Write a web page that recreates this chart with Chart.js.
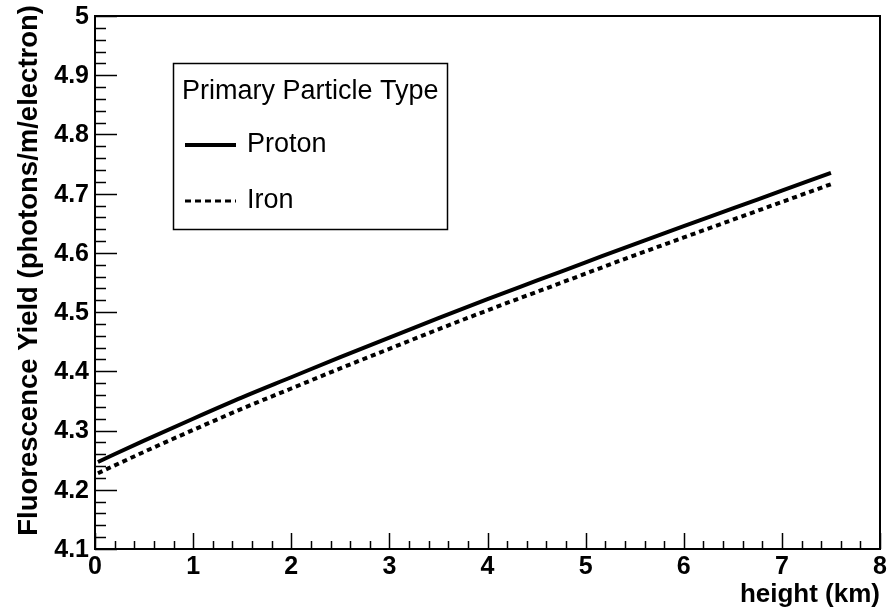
<!DOCTYPE html>
<html>
<head>
<meta charset="utf-8">
<script src="https://cdn.jsdelivr.net/npm/chart.js@4.4.1/dist/chart.umd.min.js"></script>
<style>
  html, body { margin: 0; padding: 0; background: #fff; }
  #wrap { width: 889px; height: 613px; }
</style>
</head>
<body>
<div id="wrap"><canvas id="myChart" width="889" height="613"></canvas></div>
<script>
// height above ground (km)
const heights = [0.03, 0.5, 1, 1.5, 2, 2.5, 3, 3.5, 4, 4.5, 5, 5.5, 6, 6.5, 7, 7.5];
// fluorescence yield (photons/m/electron)
const proton = [4.247, 4.283, 4.320, 4.356, 4.390, 4.424, 4.457, 4.490, 4.522, 4.553, 4.584, 4.615, 4.645, 4.675, 4.705, 4.735];
const iron   = [4.228, 4.264, 4.301, 4.337, 4.371, 4.405, 4.438, 4.471, 4.503, 4.534, 4.565, 4.596, 4.626, 4.656, 4.686, 4.716];

const xTicks = ['0', '1', '2', '3', '4', '5', '6', '7', '8'];
const yTicks = ['4.1', '4.2', '4.3', '4.4', '4.5', '4.6', '4.7', '4.8', '4.9', '5'];

const legendTitle = 'Primary Particle Type';
const seriesNames = ['Proton', 'Iron'];

const boldFont = 'bold 25px "Liberation Sans", Arial, sans-serif';
const titleFont = 'bold 26px "Liberation Sans", Arial, sans-serif';
const yTitleFont = 'bold 27.5px "Liberation Sans", Arial, sans-serif';
const legFont = '27px "Liberation Sans", Arial, sans-serif';

// draws the ROOT-like frame, inside ticks, labels and legend
const rootStyle = {
  id: 'rootStyle',
  afterDraw(chart) {
    const ctx = chart.ctx;
    const xs = chart.scales.x, ys = chart.scales.y;
    const a = chart.chartArea;
    ctx.save();
    ctx.strokeStyle = '#000';
    ctx.fillStyle = '#000';

    // frame
    ctx.lineWidth = 2;
    ctx.strokeRect(a.left, a.top, a.right - a.left, a.bottom - a.top);

    // y ticks
    ctx.lineWidth = 1.5;
    for (let i = 0; i <= 45; i++) {
      const v = 4.1 + i * 0.02;
      const py = Math.round(ys.getPixelForValue(v)) + 0.5;
      const len = (i % 5 === 0) ? 22 : 11;
      ctx.beginPath();
      ctx.moveTo(a.left, py);
      ctx.lineTo(a.left + len, py);
      ctx.stroke();
    }
    // x ticks
    for (let i = 0; i <= 40; i++) {
      const v = i * 0.2;
      const px = Math.round(xs.getPixelForValue(v)) + 0.5;
      const len = (i % 5 === 0) ? 16 : 8;
      ctx.beginPath();
      ctx.moveTo(px, a.bottom);
      ctx.lineTo(px, a.bottom - len);
      ctx.stroke();
    }

    // tick labels
    ctx.font = boldFont;
    ctx.textAlign = 'right';
    ctx.textBaseline = 'middle';
    yTicks.forEach(t => {
      ctx.fillText(t, a.left - 6, ys.getPixelForValue(parseFloat(t)) + 1);
    });
    ctx.textAlign = 'center';
    xTicks.forEach(t => {
      ctx.fillText(t, xs.getPixelForValue(parseFloat(t)), a.bottom + 18);
    });

    // axis titles
    ctx.font = titleFont;
    ctx.textAlign = 'right';
    ctx.textBaseline = 'alphabetic';
    ctx.fillText('height (km)', a.right, a.bottom + 53);
    ctx.save();
    ctx.font = yTitleFont;
    ctx.translate(37, a.top);
    ctx.rotate(-Math.PI / 2);
    ctx.textAlign = 'right';
    ctx.textBaseline = 'alphabetic';
    ctx.fillText('Fluorescence Yield (photons/m/electron)', 11, 0);
    ctx.restore();

    // legend
    const lx = 173, ly = 63, lw = 274, lh = 166;
    ctx.fillStyle = '#fff';
    ctx.fillRect(lx, ly, lw, lh);
    ctx.lineWidth = 1.5;
    ctx.strokeRect(lx + 0.5, ly + 0.5, lw, lh);
    ctx.fillStyle = '#000';
    ctx.font = legFont;
    ctx.textAlign = 'left';
    ctx.textBaseline = 'middle';
    ctx.fillText(legendTitle, 182, 92);
    const rows = [145, 201];
    chart.data.datasets.forEach((ds, i) => {
      ctx.lineWidth = i === 0 ? 4 : 3;
      ctx.setLineDash(i === 0 ? [] : [6, 4]);
      ctx.beginPath();
      ctx.moveTo(185, rows[i]);
      ctx.lineTo(236, rows[i]);
      ctx.stroke();
      ctx.setLineDash([]);
      ctx.fillText(seriesNames[i], 247, rows[i]);
    });
    ctx.restore();
  }
};

new Chart(document.getElementById('myChart'), {
  type: 'scatter',
  data: {
    datasets: [
      {
        label: seriesNames[0],
        data: heights.map((h, i) => ({ x: h, y: proton[i] })),
        showLine: true,
        borderColor: '#000',
        borderWidth: 4,
        pointRadius: 0,
        cubicInterpolationMode: 'monotone'
      },
      {
        label: seriesNames[1],
        data: heights.map((h, i) => ({ x: h, y: iron[i] })),
        showLine: true,
        borderColor: '#000',
        borderWidth: 4,
        borderDash: [5, 4],
        pointRadius: 0,
        cubicInterpolationMode: 'monotone'
      }
    ]
  },
  options: {
    responsive: false,
    animation: false,
    layout: { padding: { left: 95, right: 9, top: 16, bottom: 64 } },
    plugins: { legend: { display: false }, tooltip: { enabled: false } },
    scales: {
      x: { type: 'linear', min: 0, max: 8, display: false },
      y: { type: 'linear', min: 4.1, max: 5, display: false }
    }
  },
  plugins: [rootStyle]
});
</script>
</body>
</html>
